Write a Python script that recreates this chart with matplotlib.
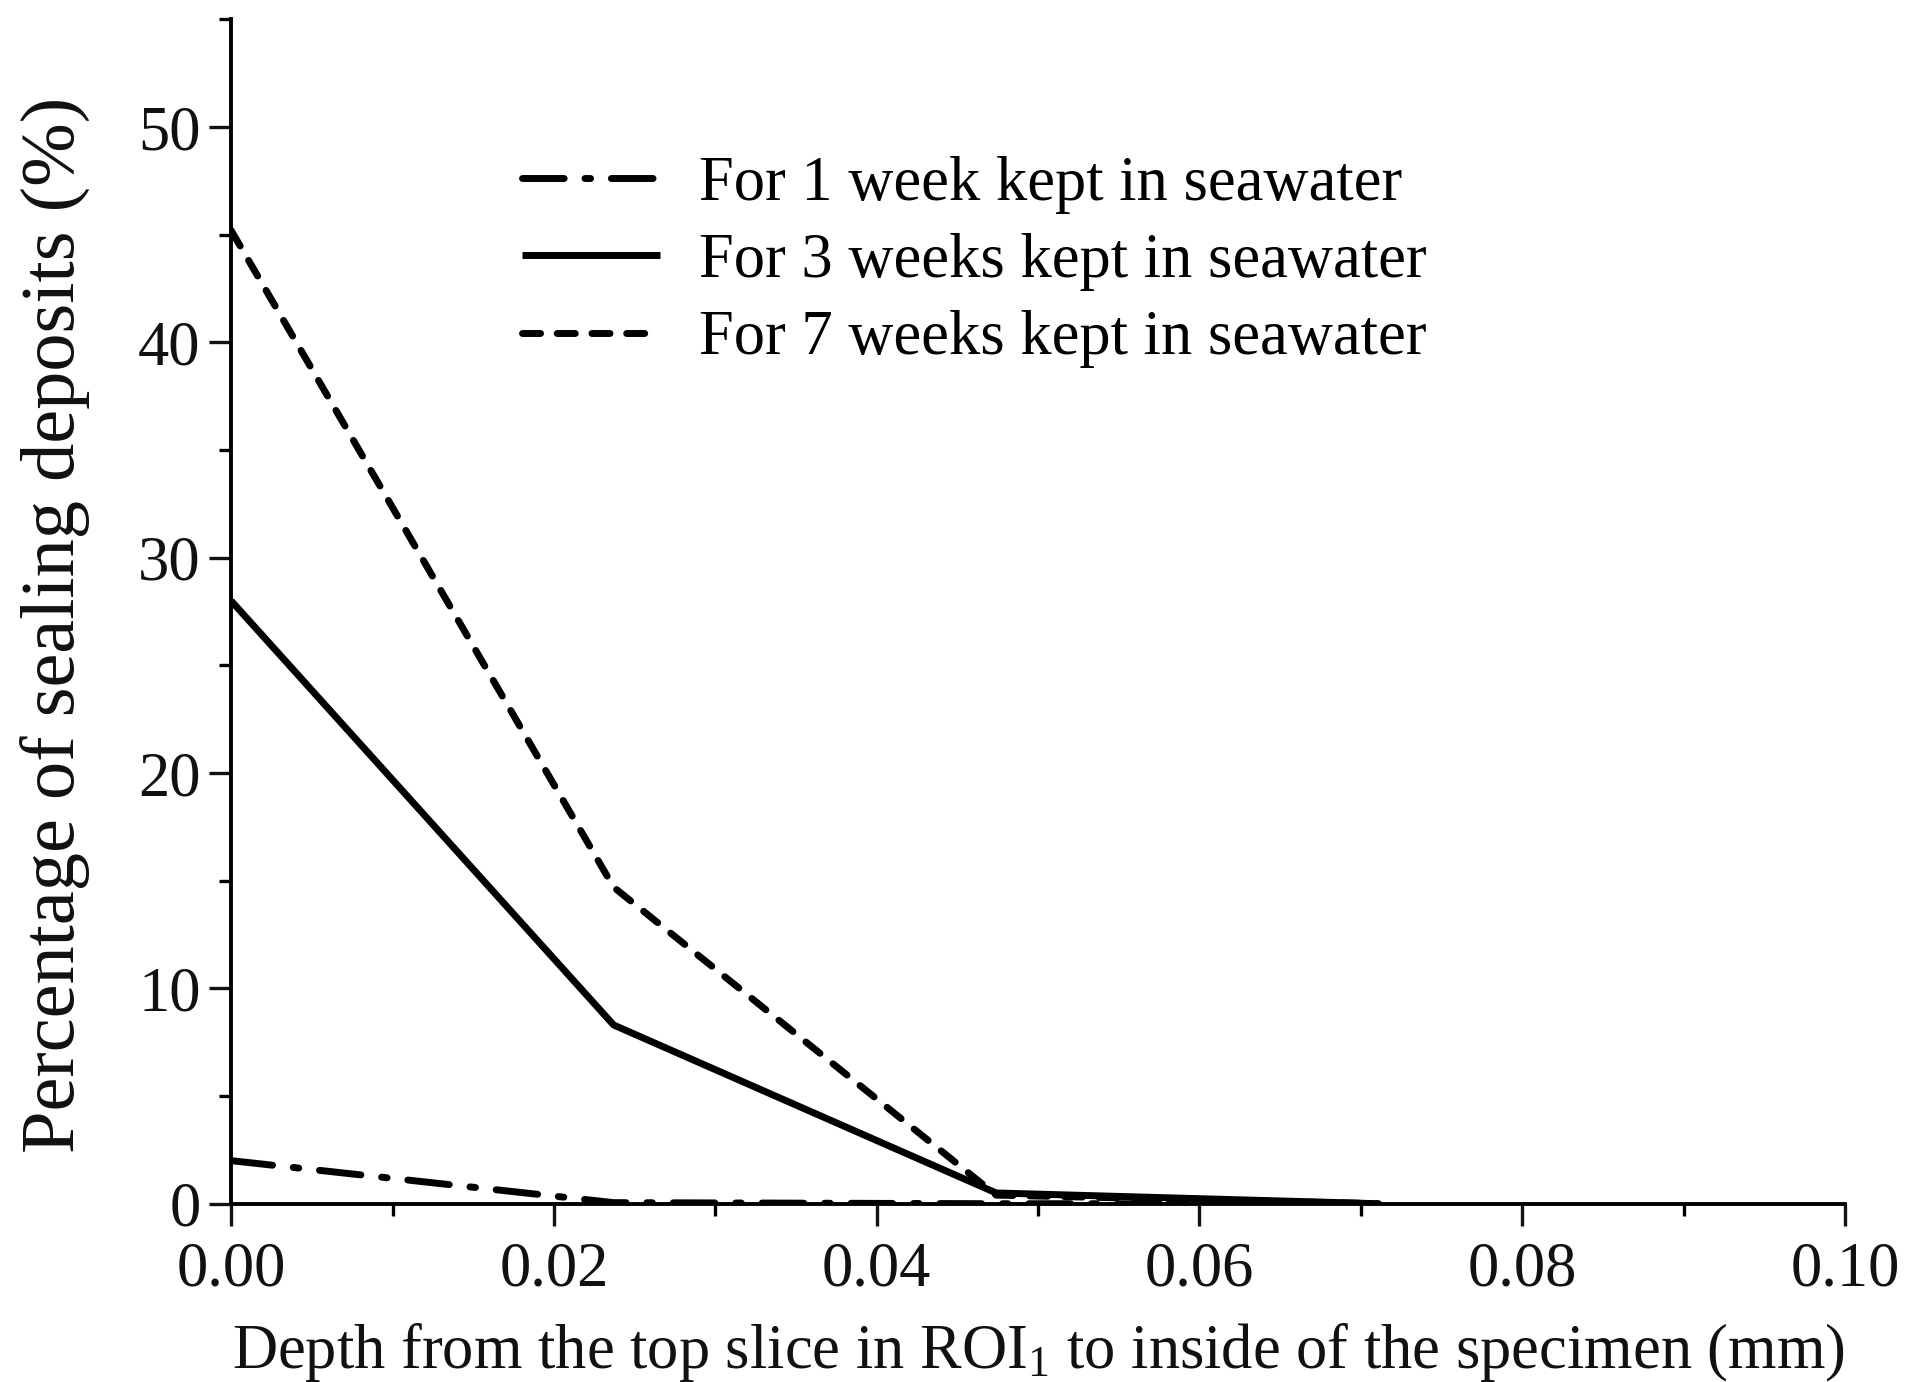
import matplotlib
matplotlib.use("Agg")
import matplotlib.pyplot as plt
from matplotlib.ticker import MultipleLocator, FormatStrFormatter

# depth of each slice (mm) and percentage of sealing deposits (%)
depth = [0.0, 0.0237, 0.0474, 0.0711]
week1 = [2.0, 0.05, 0.0, 0.0]
week3 = [28.0, 8.3, 0.5, 0.0]
week7 = [45.2, 14.7, 0.4, 0.0]

labels = ["For 1 week kept in seawater",
          "For 3 weeks kept in seawater",
          "For 7 weeks kept in seawater"]

plt.rcParams['font.family'] = ['Liberation Serif', 'DejaVu Serif']
plt.rcParams['mathtext.default'] = 'regular'

fig = plt.figure(figsize=(19.10, 13.82), dpi=100)
ax = fig.add_axes([0.121, 0.129, 0.845, 0.857])

lw = 5.0
ax.plot(depth, week1, color='black', lw=lw, dashes=(6, 3, 0.8, 3),
        dash_capstyle='round', label=labels[0])
ax.plot(depth, week3, color='black', lw=lw, solid_capstyle='butt',
        label=labels[1])
ax.plot(depth, week7, color='black', lw=lw, dashes=(2.6, 2.4),
        dash_capstyle='round', label=labels[2])

ax.set_xlim(0, 0.10)
ax.set_ylim(0, 55)
ax.xaxis.set_major_locator(MultipleLocator(0.02))
ax.xaxis.set_minor_locator(MultipleLocator(0.01))
ax.yaxis.set_major_locator(MultipleLocator(10))
ax.yaxis.set_minor_locator(MultipleLocator(5))
ax.xaxis.set_major_formatter(FormatStrFormatter('%.2f'))

for s in ['top', 'right']:
    ax.spines[s].set_visible(False)
for s in ['left', 'bottom']:
    ax.spines[s].set_linewidth(2.8)

ax.tick_params(which='major', direction='out', length=16, width=2.4,
               labelsize=45, colors='#111111')
ax.tick_params(which='minor', direction='out', length=8.5, width=2.4)
ax.tick_params(axis='x', which='major', pad=11)
ax.tick_params(axis='y', which='major', pad=6)

ax.set_xlabel(r'Depth from the top slice in ROI$_{1}$ to inside of the specimen (mm)',
              fontsize=45, color='#111111', labelpad=16)
ax.set_ylabel('Percentage of sealing deposits (%)', fontsize=55,
              color='#111111')
ax.yaxis.set_label_coords(-0.087, 0.489)

ax.legend(loc='upper left', bbox_to_anchor=(0.165, 0.906), frameon=False,
          fontsize=45, handlelength=2.2, handletextpad=0.62, labelspacing=0.31,
          borderaxespad=0)

fig.savefig('out.png', dpi=100)
plt.close(fig)
